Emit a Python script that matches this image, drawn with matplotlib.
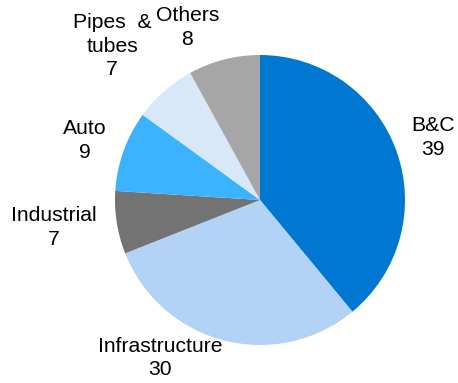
import matplotlib.pyplot as plt

plt.rcParams['font.family'] = ['Liberation Sans', 'DejaVu Sans']

# segment shares, clockwise from 12 o'clock
names = ['B&C', 'Infrastructure', 'Industrial', 'Auto', 'Pipes  &\ntubes', 'Others']
values = [39, 30, 7, 9, 7, 8]
colors = ['#0078d2', '#b3d3f6', '#737373', '#3cb3ff', '#d9e8f8', '#a6a6a6']

# label anchor points in data units (pie radius = 1)
label_xy = [(1.19, 0.43), (-0.69, -1.09), (-1.42, -0.19),
            (-1.21, 0.41), (-1.02, 1.06), (-0.50, 1.19)]

W, H = 458, 383
fig = plt.figure(figsize=(W / 100, H / 100), dpi=100)
cx, cy, r = 260, 200, 145
ax = fig.add_axes([(cx - r) / W, (H - cy - r) / H, 2 * r / W, 2 * r / H])

ax.pie(values, colors=colors, startangle=90, counterclock=False,
       radius=1, wedgeprops=dict(linewidth=0))
ax.set_xlim(-1, 1)
ax.set_ylim(-1, 1)
ax.set_aspect('equal')
ax.axis('off')

for name, v, (x, y) in zip(names, values, label_xy):
    ax.text(x, y, f'{name}\n{v}', ha='center', va='center', fontsize=15.2,
            color='black', linespacing=1.3, clip_on=False)

fig.savefig('out.png', dpi=100)
